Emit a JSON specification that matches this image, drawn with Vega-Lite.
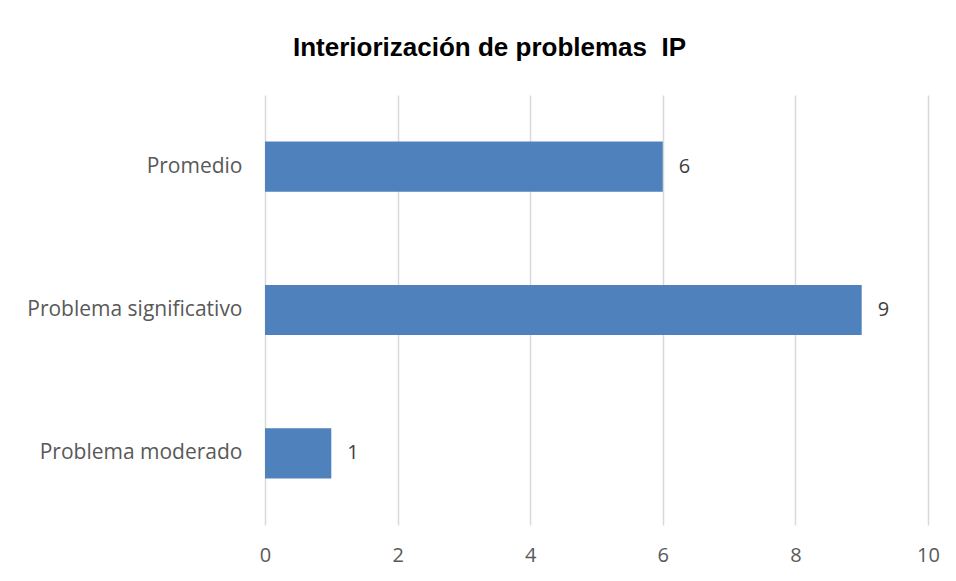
{
  "$schema": "https://vega.github.io/schema/vega-lite/v6.json",
  "width": 663,
  "height": 430,
  "autosize": {"type": "none"},
  "padding": {"left": 265, "top": 95, "right": 28, "bottom": 56},
  "background": "white",
  "title": {
    "text": "Interiorización de problemas\u00a0 IP",
    "font": "Liberation Sans",
    "fontSize": 26,
    "fontWeight": "bold",
    "color": "#000000",
    "anchor": "middle",
    "dx": -107,
    "offset": 34
  },
  "data": {
    "values": [
      {"categoria": "Promedio", "valor": 6},
      {"categoria": "Problema significativo", "valor": 9},
      {"categoria": "Problema moderado", "valor": 1}
    ]
  },
  "encoding": {
    "y": {
      "field": "categoria",
      "type": "nominal",
      "sort": ["Promedio", "Problema significativo", "Problema moderado"],
      "scale": {"paddingInner": 0.65, "paddingOuter": 0.325},
      "axis": {
        "title": null,
        "ticks": false,
        "domain": false,
        "grid": false,
        "labelFont": "Open Sans",
        "labelFontSize": 21,
        "labelColor": "#595959",
        "labelPadding": 23,
        "labelLimit": 400
      }
    },
    "x": {
      "field": "valor",
      "type": "quantitative",
      "scale": {"domain": [0, 10], "nice": false},
      "axis": {
        "title": null,
        "values": [0, 2, 4, 6, 8, 10],
        "ticks": false,
        "domain": false,
        "grid": true,
        "gridColor": "#D9D9D9",
        "gridWidth": 1.5,
        "labelFont": "Open Sans",
        "labelFontSize": 20,
        "labelColor": "#595959",
        "labelPadding": 20,
        "labelFlush": false
      }
    }
  },
  "layer": [
    {"mark": {"type": "bar", "color": "#4F81BD"}},
    {
      "mark": {
        "type": "text",
        "align": "left",
        "baseline": "middle",
        "dx": 16,
        "font": "Open Sans",
        "fontSize": 20,
        "color": "#404040"
      },
      "encoding": {"text": {"field": "valor", "type": "quantitative"}}
    }
  ],
  "config": {"view": {"stroke": null}}
}
